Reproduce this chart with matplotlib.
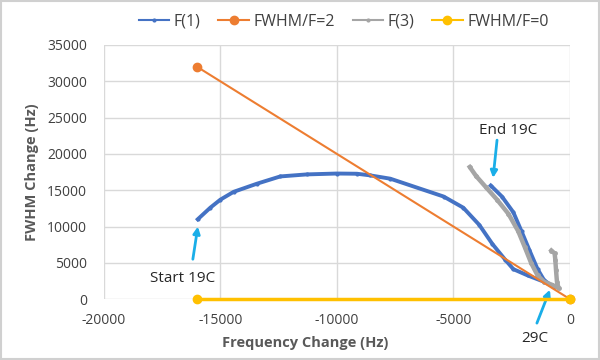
import matplotlib.pyplot as plt
from matplotlib.lines import Line2D
from matplotlib.patches import Rectangle

plt.rcParams['font.family'] = ['Open Sans', 'DejaVu Sans']
plt.rcParams['axes.unicode_minus'] = False

# F(1): warm-up branch from start, then back up to the end point
f1_x = [-15970, -15430, -15000, -14430, -13430, -12430, -11290, -10000, -9140,
        -8570, -7710, -5420, -4580, -3890, -3330, -2780, -2430, -1810, -1110,
        -690, -830, -1110, -1390, -1740, -2080, -2430, -2920, -3400]
f1_y = [11000, 12600, 13700, 14780, 15900, 16900, 17180, 17300, 17270,
        17045, 16590, 14130, 12600, 10220, 7600, 5430, 4130, 3260, 2390,
        1740, 1960, 2610, 4130, 6740, 9350, 11960, 14130, 15650]

# F(3)
f3_x = [-4300, -4030, -3610, -3130, -2640, -2220, -1940, -1670, -1390, -1110,
        -760, -490, -560, -600, -630, -660, -800]
f3_y = [18200, 16960, 15430, 13700, 11740, 9350, 7170, 5000, 3260, 2390,
        1960, 1520, 2400, 4000, 5430, 6300, 6700]

# reference lines
r2_x = [-16000, 0]
r2_y = [32000, 0]
r0_x = [-16000, 0]
r0_y = [0, 0]

xticks = [-20000, -15000, -10000, -5000, 0]
yticks = [0, 5000, 10000, 15000, 20000, 25000, 30000, 35000]

txt = '#404040'
arrow_c = '#1aaee8'
c_blue, c_orange, c_gray, c_yellow = '#4472c4', '#ed7d31', '#a5a5a5', '#ffc000'

fig = plt.figure(figsize=(6, 3.6), dpi=100)
ax = fig.add_axes([0.173, 0.169, 0.777, 0.706])

ax.plot(f1_x, f1_y, color=c_blue, lw=2.8, marker='o', ms=2, zorder=3)
ax.plot(r2_x, r2_y, color=c_orange, lw=1.5, marker='o', ms=6, zorder=4, clip_on=False)
ax.plot(f3_x, f3_y, color=c_gray, lw=3.2, marker='o', ms=2.5, zorder=3)
ax.plot(r0_x, r0_y, color=c_yellow, lw=2.5, marker='o', ms=6, zorder=4, clip_on=False)

ax.set_xlim(-20000, 0)
ax.set_ylim(0, 35000)
ax.set_xticks(xticks)
ax.set_yticks(yticks)
ax.grid(True, color='#d9d9d9', lw=1)
ax.set_axisbelow(True)
for s in ax.spines.values():
    s.set_visible(False)
ax.tick_params(length=0, labelsize=10, colors=txt)
ax.tick_params(axis='y', pad=12)
ax.tick_params(axis='x', pad=10)

ax.set_xlabel('Frequency Change (Hz)', fontsize=10.5, color='#595959',
              fontweight='bold')
ax.xaxis.set_label_coords(0.433, -0.145)
ax.set_ylabel('FWHM Change (Hz)', fontsize=10.5, color='#595959',
              fontweight='bold', labelpad=6)

ap = dict(arrowstyle='-|>', color=arrow_c, lw=2, mutation_scale=10, shrinkA=0, shrinkB=0)
ax.annotate('', xy=(-15965, 10000), xytext=(-16180, 5500), arrowprops=ap)
ax.text(-16600, 2900, 'Start 19C', fontsize=11, color='#262626', ha='center', va='center')
ax.annotate('', xy=(-3300, 16700), xytext=(-3130, 21900), arrowprops=ap)
ax.text(-2660, 23200, 'End 19C', fontsize=11, color='#262626', ha='center', va='center')
ax.annotate('', xy=(-860, 1300), xytext=(-1420, -3300), arrowprops=ap,
            annotation_clip=False)
ax.text(-1500, -5400, '29C', fontsize=11, color='#262626', ha='center', va='center')

handles = [
    Line2D([], [], color=c_blue, lw=1.5, marker='o', ms=2),
    Line2D([], [], color=c_orange, lw=1.5, marker='o', ms=6),
    Line2D([], [], color=c_gray, lw=1.5, marker='o', ms=2),
    Line2D([], [], color=c_yellow, lw=1.5, marker='o', ms=6),
]
labels = ['F(1)', 'FWHM/F=2', 'F(3)', 'FWHM/F=0']
fig.legend(handles, labels, loc='center', bbox_to_anchor=(0.573, 0.939), ncol=4,
           frameon=False, fontsize=11.5, handlelength=1.9, columnspacing=1.1,
           handletextpad=0.3, labelcolor=txt)

fig.patches.append(Rectangle((0.002, 0.003), 0.996, 0.994, transform=fig.transFigure,
                             fill=False, edgecolor='#d0d0d0', lw=1.5))

fig.savefig('out.png', dpi=100)
